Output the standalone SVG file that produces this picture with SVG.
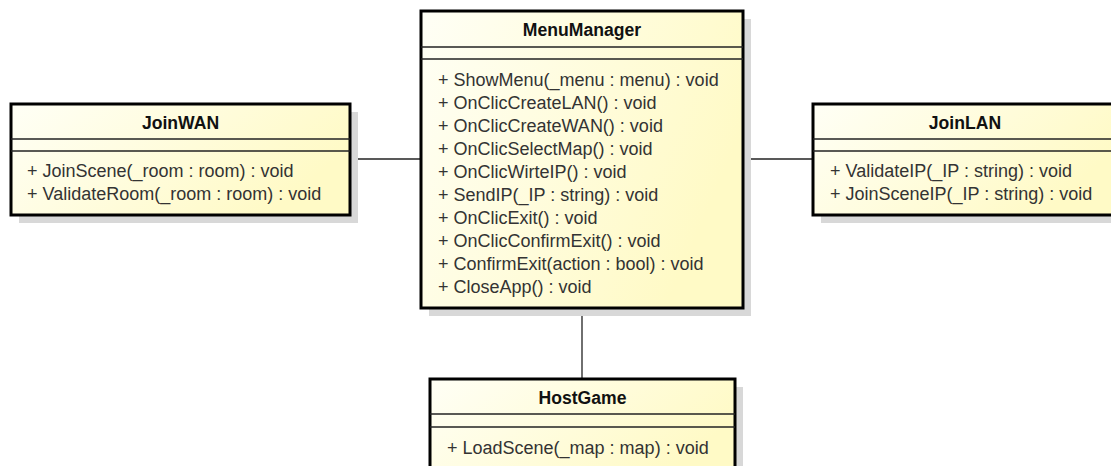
<svg xmlns="http://www.w3.org/2000/svg" width="1111" height="466" viewBox="0 0 1111 466">
<defs>
<linearGradient id="fill" x1="0" y1="0" x2="1" y2="0.4">
<stop offset="0" stop-color="#fffff6"/>
<stop offset="1" stop-color="#fffac6"/>
</linearGradient>
</defs>
<style>
.shadow{fill:#d8d8d8;}
.box{fill:url(#fill);stroke:#000;stroke-width:3;}
.sep{stroke:#222;stroke-width:1.3;fill:none;}
.title{font-family:"Liberation Sans",Arial,sans-serif;font-size:17.6px;font-weight:bold;fill:#111;text-anchor:middle;}
.op{font-family:"Liberation Sans",Arial,sans-serif;font-size:18px;fill:#333;}
.conn{stroke:#222;stroke-width:1.3;fill:none;}
</style>
<rect width="1111" height="466" fill="#fff"/>
<g id="connectors">
<line class="conn" x1="350" y1="159" x2="421" y2="159"/>
<line class="conn" x1="743" y1="159" x2="813" y2="159"/>
<line class="conn" x1="582" y1="308" x2="582" y2="379"/>
</g>
<g id="JoinWAN">
<rect class="shadow" x="19" y="112" width="339" height="111"/>
<rect class="box" x="11" y="104" width="339" height="111"/>
<line class="sep" x1="11" y1="139" x2="350" y2="139"/>
<line class="sep" x1="11" y1="151" x2="350" y2="151"/>
<text class="title" x="180.5" y="129">JoinWAN</text>
<text class="op" x="27" y="177">+ JoinScene(_room : room) : void</text>
<text class="op" x="27" y="200">+ ValidateRoom(_room : room) : void</text>
</g>
<g id="MenuManager">
<rect class="shadow" x="429" y="19" width="322" height="297"/>
<rect class="box" x="421" y="11" width="322" height="297"/>
<line class="sep" x1="421" y1="47" x2="743" y2="47"/>
<line class="sep" x1="421" y1="59" x2="743" y2="59"/>
<text class="title" x="582" y="36">MenuManager</text>
<text class="op" x="438" y="86">+ ShowMenu(_menu : menu) : void</text>
<text class="op" x="438" y="109">+ OnClicCreateLAN() : void</text>
<text class="op" x="438" y="132">+ OnClicCreateWAN() : void</text>
<text class="op" x="438" y="155">+ OnClicSelectMap() : void</text>
<text class="op" x="438" y="178">+ OnClicWirteIP() : void</text>
<text class="op" x="438" y="201">+ SendIP(_IP : string) : void</text>
<text class="op" x="438" y="224">+ OnClicExit() : void</text>
<text class="op" x="438" y="247">+ OnClicConfirmExit() : void</text>
<text class="op" x="438" y="270">+ ConfirmExit(action : bool) : void</text>
<text class="op" x="438" y="293">+ CloseApp() : void</text>
</g>
<g id="JoinLAN">
<rect class="shadow" x="821" y="112" width="304" height="111"/>
<rect class="box" x="813" y="104" width="304" height="111"/>
<line class="sep" x1="813" y1="139" x2="1117" y2="139"/>
<line class="sep" x1="813" y1="151" x2="1117" y2="151"/>
<text class="title" x="965" y="129">JoinLAN</text>
<text class="op" x="830" y="177">+ ValidateIP(_IP : string) : void</text>
<text class="op" x="830" y="200">+ JoinSceneIP(_IP : string) : void</text>
</g>
<g id="HostGame">
<rect class="shadow" x="438" y="387" width="305" height="100"/>
<rect class="box" x="430" y="379" width="305" height="100"/>
<line class="sep" x1="430" y1="414" x2="735" y2="414"/>
<line class="sep" x1="430" y1="427" x2="735" y2="427"/>
<text class="title" x="582.5" y="404">HostGame</text>
<text class="op" x="447" y="454">+ LoadScene(_map : map) : void</text>
</g>
</svg>
